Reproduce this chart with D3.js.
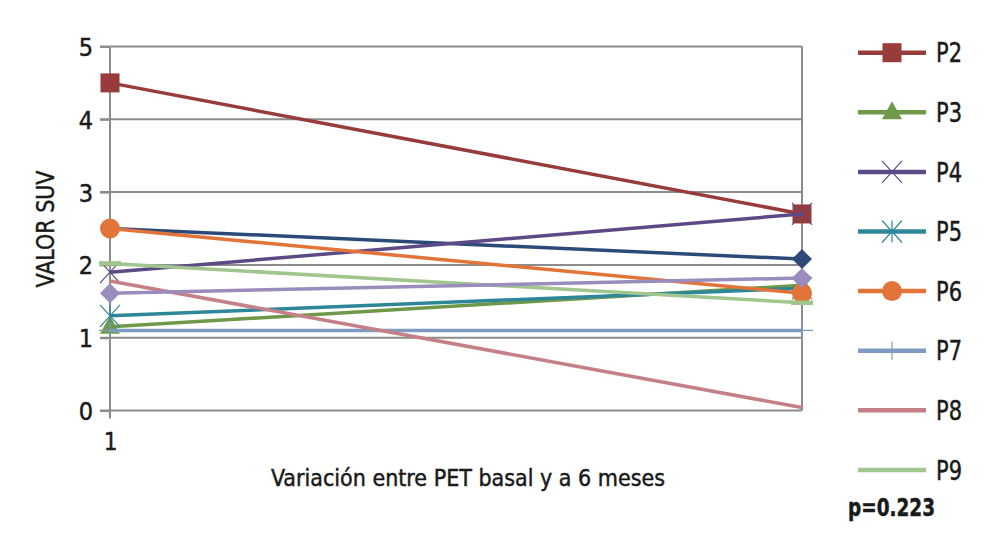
<!DOCTYPE html>
<html><head><meta charset="utf-8">
<script src="https://cdn.jsdelivr.net/npm/d3@7"></script>
<style>
body{margin:0;background:#fff;}
text{font-family:"Liberation Sans Narrow","DejaVu Sans Condensed","Arial Narrow",sans-serif;fill:#1a1a1a;stroke:#1a1a1a;stroke-width:0.45px;}
</style></head>
<body>
<svg id="c" width="1008" height="550"></svg>
<script>
// ---- data ----
const categories = ["1", "2"];
const xTickLabels = ["1"];
const yTicks = [0, 1, 2, 3, 4, 5];
const seriesNames = ["P1", "P2", "P3", "P4", "P5", "P6", "P7", "P8", "P9", "P10"];
const valuesP1 = [2.5, 2.08];
const valuesP2 = [4.5, 2.7];
const valuesP3 = [1.15, 1.72];
const valuesP4 = [1.9, 2.7];
const valuesP5 = [1.3, 1.68];
const valuesP6 = [2.5, 1.61];
const valuesP7 = [1.1, 1.1];
const valuesP8 = [1.78, 0.04];
const valuesP9 = [2.02, 1.48];
const valuesP10 = [1.61, 1.82];
const legendNames = ["P2", "P3", "P4", "P5", "P6", "P7", "P8", "P9"];
const xTitle = "Variación entre PET basal y a 6 meses";
const yTitle = "VALOR SUV";
const pText = "p=0.223";

// ---- styles ----
const colors = {P1:"#2b4a78",P2:"#983b3b",P3:"#6f9848",P4:"#5b4a85",P5:"#2e8799",P6:"#e2743a",P7:"#7d9bc0",P8:"#c57f86",P9:"#a0c68e",P10:"#9a8cbc"};
const markers = {P1:"diamond",P2:"square",P3:"triangle",P4:"times",P5:"asterisk",P6:"circle",P7:"plus",P8:"none",P9:"dash",P10:"diamond"};
const allValues = [valuesP1,valuesP2,valuesP3,valuesP4,valuesP5,valuesP6,valuesP7,valuesP8,valuesP9,valuesP10];
const series = seriesNames.map((n,i)=>({name:n, values:allValues[i]}));

const svg = d3.select("#c");
const x = d3.scalePoint().domain(categories).range([110, 802]);
const y = d3.scaleLinear().domain([0, 5]).range([410.5, 46.5]);
const gridColor = "#8c8c8c";

// grid lines
svg.append("g").selectAll("line").data(yTicks).join("line")
  .attr("x1", 100).attr("x2", x("2")).attr("y1", d=>y(d)).attr("y2", d=>y(d))
  .attr("stroke", gridColor).attr("stroke-width", 2);
// right border
svg.append("line").attr("x1", x("2")).attr("x2", x("2")).attr("y1", y(5)).attr("y2", y(0))
  .attr("stroke", gridColor).attr("stroke-width", 2);

// y axis
const yAxis = svg.append("g").attr("transform", `translate(${x("1")},0)`)
  .call(d3.axisLeft(y).tickValues(yTicks).tickFormat(d3.format("d")).tickSize(10).tickPadding(7));
yAxis.select(".domain").remove();
yAxis.selectAll(".tick line").attr("stroke", gridColor).attr("stroke-width", 2);
yAxis.selectAll(".tick text").style("font-size","25px").attr("fill","#1a1a1a").attr("dy","0.36em");
svg.append("line").attr("x1", x("1")).attr("x2", x("1")).attr("y1", y(5)).attr("y2", y(0)+8)
  .attr("stroke", gridColor).attr("stroke-width", 2);

// x axis labels
const xAxis = svg.append("g").attr("transform", `translate(0,${y(0)})`)
  .call(d3.axisBottom(x).tickValues(xTickLabels).tickSize(0).tickPadding(22));
xAxis.select(".domain").remove();
xAxis.selectAll(".tick text").style("font-size","24px").attr("fill","#1a1a1a");

// titles
svg.append("text").attr("x", 468).attr("y", 486).attr("text-anchor","middle")
  .style("font-size","23px").text(xTitle);
svg.append("text").attr("transform","translate(54,229) rotate(-90)").attr("text-anchor","middle")
  .style("font-size","24px").attr("textLength",117).attr("lengthAdjust","spacingAndGlyphs").text(yTitle);

// marker drawing
function drawMarker(g, type, color, cx, cy, legend){
  const t = `translate(${cx},${cy})`;
  if(type==="square") g.append("rect").attr("x",cx-9.5).attr("y",cy-9.5).attr("width",19).attr("height",19).attr("fill",color);
  else if(type==="circle") g.append("circle").attr("cx",cx).attr("cy",cy).attr("r",10).attr("fill",color);
  else if(type==="triangle") g.append("path").attr("transform",t).attr("d","M0,-11L10,7L-10,7Z").attr("fill",color);
  else if(type==="diamond") g.append("path").attr("transform",t).attr("d","M0,-10L10,0L0,10L-10,0Z").attr("fill",color);
  else if(type==="times") g.append("path").attr("transform",t).attr("d","M-10,-11L10,11M-10,11L10,-11").attr("stroke",color).attr("stroke-width",1.2).attr("fill","none");
  else if(type==="asterisk") g.append("path").attr("transform",t).attr("d","M-10,-11L10,11M-10,11L10,-11M0,-11L0,11").attr("stroke",color).attr("stroke-width",1.2).attr("fill","none");
  else if(type==="plus") g.append("path").attr("transform",t).attr("d",legend?"M0,-9L0,9":"M-11,0L11,0M0,-9L0,9").attr("stroke",color).attr("stroke-width",1.2).attr("fill","none");
  else if(type==="dash") { if(!legend) g.append("path").attr("transform",t).attr("d","M-11,0L11,0").attr("stroke",color).attr("stroke-width",4.5).attr("fill","none"); }
}

// lines + markers
const line = d3.line().x((d,i)=>x(categories[i])).y(d=>y(d));
series.forEach(s=>{
  const g = svg.append("g");
  g.append("path").attr("d", line(s.values)).attr("fill","none")
    .attr("stroke", colors[s.name]).attr("stroke-width", 3.5).attr("stroke-linejoin","round");
  s.values.forEach((v,i)=>drawMarker(g, markers[s.name], colors[s.name], x(categories[i]), y(v), false));
});

// legend
const lg = svg.append("g");
legendNames.forEach((n,i)=>{
  const cy = 52.7 + i*59.6;
  lg.append("line").attr("x1",858).attr("x2",926).attr("y1",cy).attr("y2",cy)
    .attr("stroke",colors[n]).attr("stroke-width",4.5);
  drawMarker(lg, markers[n], colors[n], 892, cy, true);
  lg.append("text").attr("x",936).attr("y",cy).attr("dy","0.36em").style("font-size","27px")
    .attr("textLength",26).attr("lengthAdjust","spacingAndGlyphs").text(n);
});
svg.append("text").attr("x",848).attr("y",516).style("font-size","25px").style("font-weight","bold")
  .attr("textLength",87).attr("lengthAdjust","spacingAndGlyphs").text(pText);
</script>
</body></html>
